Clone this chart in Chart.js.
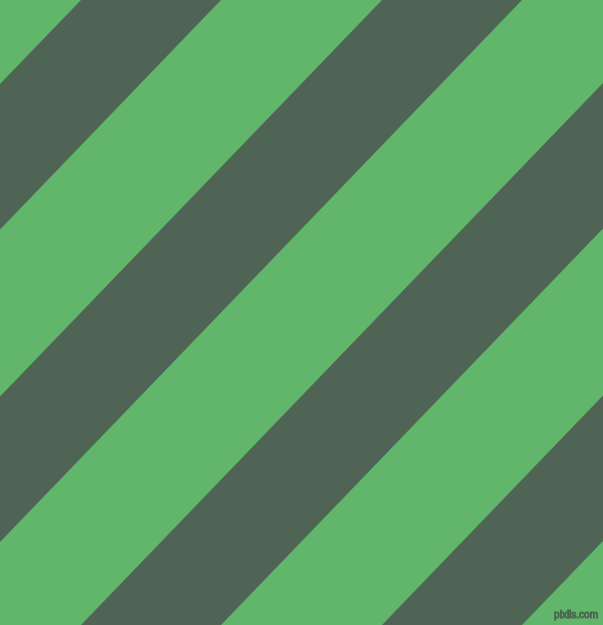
<!DOCTYPE html>
<html>
<head>
<meta charset="utf-8">
<script src="https://cdn.jsdelivr.net/npm/chart.js@4/dist/chart.umd.min.js"></script>
<style>
  html, body { margin: 0; padding: 0; background: #61B66B; overflow: hidden; }
  #wrap { width: 603px; height: 625px; }
  canvas { display: block; }
</style>
</head>
<body>
<div id="wrap"><canvas id="c" width="603" height="625"></canvas></div>
<script>
// Dark bands: x position of each band edge on the top edge (y = 0)
// and on the bottom edge (y = 625).
const bands = ['band 1', 'band 2', 'band 3', 'band 4'];
const topStart    = [81, 382, 683, 984];
const topEnd      = [221, 522, 823, 1124];
const bottomStart = [-521, -220, 81, 382];
const bottomEnd   = [-381, -80, 221, 522];
const yTop = 0;
const yBottom = 625;
const xMin = 0, xMax = 603;

const GREEN = '#61B66B';
const DARK = '#4F6455';
const watermark = 'pixlis.com';

const datasets = bands.map((name, i) => ({
  label: name,
  data: [
    { x: topStart[i], y: yTop },
    { x: topEnd[i], y: yTop },
    { x: bottomEnd[i], y: yBottom },
    { x: bottomStart[i], y: yBottom },
    { x: topStart[i], y: yTop }
  ],
  showLine: true,
  fill: 'shape',
  backgroundColor: DARK,
  borderColor: DARK,
  borderWidth: 0,
  pointRadius: 0,
  pointHoverRadius: 0,
  tension: 0
}));

const bgPlugin = {
  id: 'bg',
  beforeDraw(chart) {
    const { ctx, width, height } = chart;
    ctx.save();
    ctx.fillStyle = GREEN;
    ctx.fillRect(0, 0, width, height);
    ctx.restore();
  }
};

const markPlugin = {
  id: 'mark',
  afterDraw(chart) {
    const { ctx, chartArea } = chart;
    ctx.save();
    ctx.font = '10px "Liberation Sans", Arial, sans-serif';
    ctx.textAlign = 'right';
    ctx.textBaseline = 'alphabetic';
    ctx.lineWidth = 1;
    ctx.strokeStyle = 'rgba(72,92,78,0.9)';
    ctx.strokeText(watermark, chartArea.right - 5, chartArea.bottom - 7);
    ctx.restore();
  }
};

new Chart(document.getElementById('c'), {
  type: 'scatter',
  data: { datasets },
  options: {
    responsive: false,
    animation: false,
    devicePixelRatio: 1,
    layout: { padding: 0 },
    plugins: { legend: { display: false }, tooltip: { enabled: false }, title: { display: false } },
    events: [],
    scales: {
      x: { type: 'linear', min: xMin, max: xMax, display: false },
      y: { type: 'linear', min: yTop, max: yBottom, reverse: true, display: false }
    }
  },
  plugins: [bgPlugin, markPlugin]
});
</script>
</body>
</html>
